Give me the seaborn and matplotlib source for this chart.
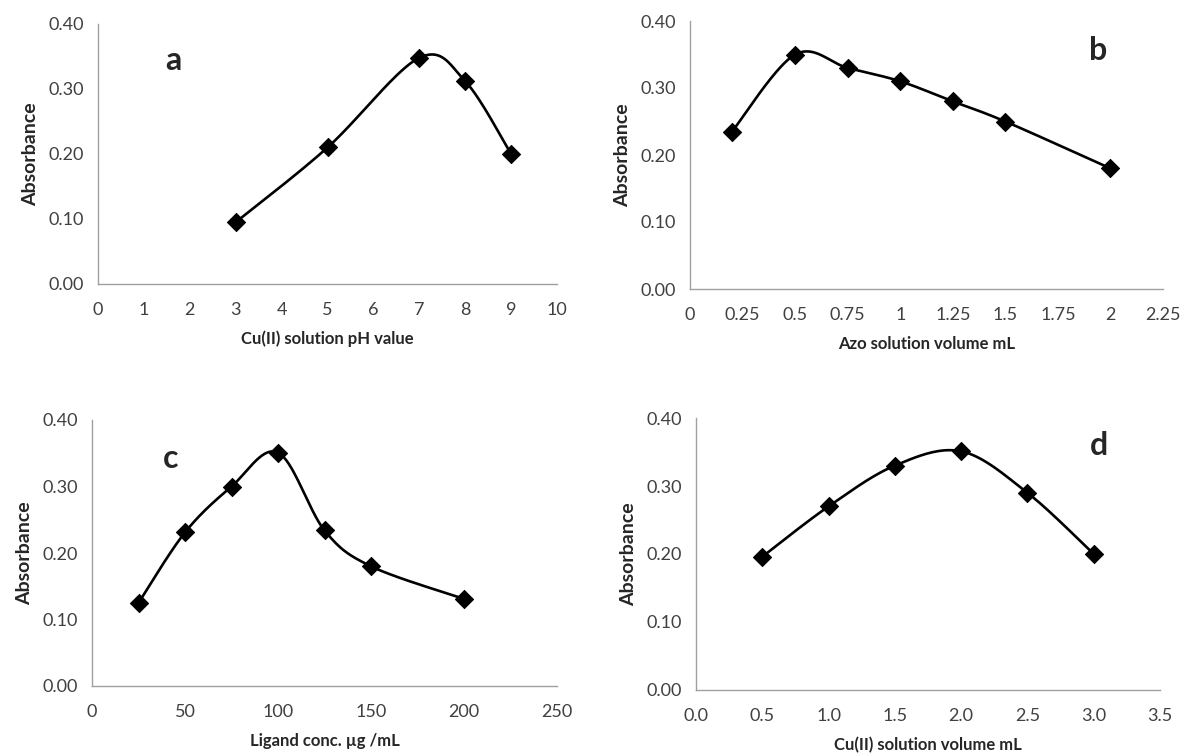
import numpy as np
import pandas as pd
import matplotlib
matplotlib.use("Agg")
import matplotlib.pyplot as plt
import seaborn as sns

# -------------------------
# DATA
# -------------------------
ph_x = [3, 5, 7, 8, 9]
ph_y = [0.095, 0.21, 0.348, 0.312, 0.20]

azo_x = [0.2, 0.5, 0.75, 1.0, 1.25, 1.5, 2.0]
azo_y = [0.235, 0.35, 0.33, 0.31, 0.28, 0.25, 0.18]

lig_x = [25, 50, 75, 100, 125, 150, 200]
lig_y = [0.125, 0.231, 0.30, 0.351, 0.234, 0.18, 0.131]

cuvol_x = [0.5, 1.0, 1.5, 2.0, 2.5, 3.0]
cuvol_y = [0.196, 0.27, 0.33, 0.351, 0.29, 0.20]

ph_ticks = [0, 1, 2, 3, 4, 5, 6, 7, 8, 9, 10]
azo_ticks = [0, 0.25, 0.5, 0.75, 1, 1.25, 1.5, 1.75, 2, 2.25]
lig_ticks = [0, 50, 100, 150, 200, 250]
cuvol_ticks = [0.0, 0.5, 1.0, 1.5, 2.0, 2.5, 3.0, 3.5]
y_ticks = [0.0, 0.1, 0.2, 0.3, 0.4]

sns.set_style("white")
plt.rcParams["font.family"] = ["Lato", "DejaVu Sans"]

GRAY = "#a0a0a0"
TICK_TXT = "#404040"


def smooth(x, y, n=40):
    # Excel-like smoothed line: Bezier segments with Catmull-Rom control points
    x = np.asarray(x, float)
    y = np.asarray(y, float)
    pts = np.column_stack([x, y])
    out = []
    t = np.linspace(0, 1, n)[:, None]
    for i in range(len(pts) - 1):
        p0 = pts[i - 1] if i > 0 else pts[i]
        p1 = pts[i]
        p2 = pts[i + 1]
        p3 = pts[i + 2] if i + 2 < len(pts) else pts[i + 1]
        c1 = p1 + (p2 - p0) / 6.0
        c2 = p2 - (p3 - p1) / 6.0
        seg = ((1 - t) ** 3) * p1 + 3 * ((1 - t) ** 2) * t * c1 + 3 * (1 - t) * t ** 2 * c2 + t ** 3 * p2
        out.append(seg)
    out = np.vstack(out)
    return out[:, 0], out[:, 1]


def panel(ax, x, y, xticks, xfmt, xlabel, letter, letter_pos):
    sx, sy = smooth(x, y)
    ax.plot(sx, sy, color="black", lw=1.9, zorder=2)
    df = pd.DataFrame({"x": x, "y": y})
    sns.scatterplot(data=df, x="x", y="y", ax=ax, marker="D", s=85,
                    color="black", edgecolor="black", zorder=3)
    ax.set_xlim(xticks[0], xticks[-1])
    ax.set_ylim(0, 0.4)
    ax.set_xticks(xticks)
    ax.set_xticklabels([xfmt(v) for v in xticks])
    ax.set_yticks(y_ticks)
    ax.set_yticklabels([f"{v:.2f}" for v in y_ticks])
    for s in ["top", "right"]:
        ax.spines[s].set_visible(False)
    for s in ["left", "bottom"]:
        ax.spines[s].set_color(GRAY)
        ax.spines[s].set_linewidth(1.0)
    ax.tick_params(axis="both", direction="out", length=5, width=1.0,
                   color=GRAY, labelcolor=TICK_TXT, labelsize=13)
    ax.tick_params(axis="x", pad=8)
    ax.tick_params(axis="y", pad=5)
    ax.set_xlabel(xlabel, fontsize=12, fontweight="bold", labelpad=9)
    ax.set_ylabel("Absorbance", fontsize=14, fontweight="bold", labelpad=7)
    ax.text(letter_pos[0], letter_pos[1], letter, transform=ax.transAxes,
            fontsize=23, fontweight="bold", ha="center", va="center")


fig = plt.figure(figsize=(11.81, 7.54), dpi=100)
# axes boxes measured in pixels from the reference
ax_a = fig.add_axes([98 / 1181, 1 - 284 / 754, 459 / 1181, 260 / 754])
ax_b = fig.add_axes([690 / 1181, 1 - 289 / 754, 473 / 1181, 268 / 754])
ax_c = fig.add_axes([92 / 1181, 1 - 686 / 754, 465 / 1181, 266 / 754])
ax_d = fig.add_axes([696 / 1181, 1 - 690 / 754, 464 / 1181, 272 / 754])

panel(ax_a, ph_x, ph_y, ph_ticks, lambda v: f"{v:g}",
      "Cu(II) solution pH value", "a", (0.165, 0.86))
panel(ax_b, azo_x, azo_y, azo_ticks, lambda v: f"{v:g}",
      "Azo solution volume mL", "b", (0.862, 0.89))
panel(ax_c, lig_x, lig_y, lig_ticks, lambda v: f"{v:g}",
      "Ligand conc. µg /mL", "c", (0.17, 0.855))
panel(ax_d, cuvol_x, cuvol_y, cuvol_ticks, lambda v: f"{v:.1f}",
      "Cu(II) solution volume mL", "d", (0.868, 0.90))

fig.savefig("out.png", dpi=100)
